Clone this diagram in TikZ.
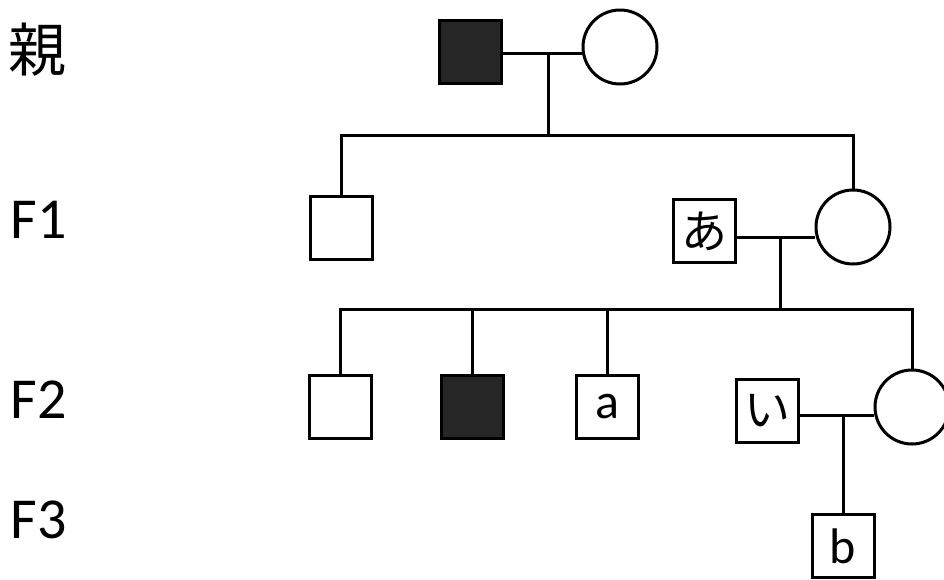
\documentclass[tikz,border=0pt]{standalone}
\usepackage{fontspec}
\setmainfont{Carlito}
\newfontfamily\jpfont{Noto Sans CJK JP}
\colorlet{affected}{black!85}

\begin{document}
\begin{tikzpicture}[x=1pt, y=-1pt,
    male/.style={draw, line width=3pt, rectangle, inner sep=0pt,
                 minimum width=62pt, minimum height=63pt},
    female/.style={draw, line width=3pt, circle, inner sep=0pt, minimum size=74pt},
    ill/.style={fill=affected},
    gen/.style={anchor=west, font=\fontsize{58}{60}\selectfont},
    tag/.style={font=\fontsize{50}{52}\selectfont},
    jtag/.style={font=\jpfont\fontsize{46}{48}\selectfont},
    line width=3pt]
  \useasboundingbox (0, 0) rectangle (944, 579);

  % generations
  \node[gen] (g0) at (4, 50)  {\jpfont 親};
  \node[gen] (g1) at (6, 220) {F1};
  \node[gen] (g2) at (6, 400) {F2};
  \node[gen] (g3) at (6, 520) {F3};

  % parents
  \node[male, ill] (dad) at (470, 52) {};
  \node[female]    (mom) at (620, 47) {};
  \coordinate (m0) at (548, 53);
  \coordinate (s1) at (548, 135);
  \draw (dad.east |- m0) -- (m0 -| mom.west);
  \draw (m0) -- (s1);

  % F1
  \node[male]   (f1a) at (341, 228) {};
  \node[male, jtag] (ano) at (704, 231) {あ};
  \node[female] (f1b) at (853, 227) {};
  \draw (f1a.north) |- (s1) -| (f1b.north);
  \coordinate (m1) at (780, 237);
  \coordinate (s2) at (780, 309);
  \draw (ano.east |- m1) -- (m1 -| f1b.west);
  \draw (m1) -- (s2);

  % F2
  \node[male]       (f2a) at (340, 407) {};
  \node[male, ill]  (f2b) at (472, 407) {};
  \node[male, tag]  (aa)  at (607, 407) {a};
  \node[male, jtag] (ii)  at (767, 411) {い};
  \node[female]     (f2c) at (912, 407) {};
  \draw (f2a.north) |- (s2) -| (f2c.north);
  \draw (f2b.north) -- (f2b.north |- s2);
  \draw (aa.north) -- (aa.north |- s2);
  \coordinate (m2) at (843, 415);
  \draw (ii.east |- m2) -- (m2 -| f2c.west);

  % F3
  \node[male, tag] (bb) at (843, 546) {b};
  \draw (m2) -- (bb.north);
\end{tikzpicture}
\end{document}
